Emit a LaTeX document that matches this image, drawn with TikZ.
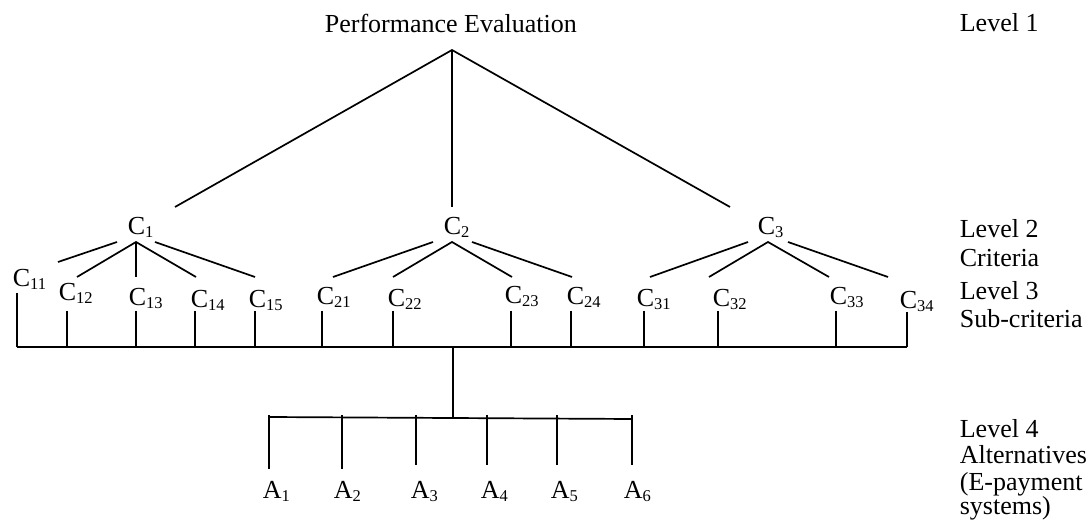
\documentclass[tikz,border=0pt]{standalone}
\usepackage{fontspec}
\setmainfont{Liberation Serif}
% lowered, smaller index digits
\newcommand\idx[1]{\raisebox{-3pt}{\fontsize{16.5}{16.5}\selectfont #1}}
\begin{document}
\begin{tikzpicture}[x=1pt,y=-1pt,line width=1.7pt,
  lbl/.style={inner sep=0pt,anchor=base west,font=\fontsize{26}{30}\selectfont}]
\useasboundingbox (0,0) rectangle (1088,521);

% ---- labels ----
\node[lbl] (pe) at (324,33) {Performance Evaluation};
\node[lbl] (c1) at (127,235) {C\idx{1}};
\node[lbl] (c2) at (443,235) {C\idx{2}};
\node[lbl] (c3) at (757,235) {C\idx{3}};
\foreach \n/\x/\y in {11/12/287,12/58/301,13/128/306,14/190/308,15/248/308,
                      21/316/305,22/387/307,23/504/304,24/566/305,
                      31/636/307,32/712/307,33/829/305,34/899/309}
  \node[lbl] (c\n) at (\x,\y) {C\idx{\n}};
\foreach \n/\x in {1/262,2/333,3/410,4/480,5/550,6/623}
  \node[lbl] (a\n) at (\x,498) {A\idx{\n}};

% level captions, one line each
\node[lbl] (lv1)  at (959,32)  {Level 1};
\node[lbl] (lv2)  at (959,238) {Level 2};
\node[lbl] (lv2b) at (959,267) {Criteria};
\node[lbl] (lv3)  at (959,300) {Level 3};
\node[lbl] (lv3b) at (959,328) {Sub-criteria};
\node[lbl] (lv4)  at (959,438) {Level 4};
\node[lbl] (lv4b) at (959,464) {Alternatives};
\node[lbl] (lv4c) at (959,490) {(E-payment};
\node[lbl] (lv4d) at (959,514) {systems)};

% ---- goal to criteria ----
\coordinate (top) at (452,50);
\coordinate (c1in) at (175,207);
\coordinate (c2in) at (452,207);
\coordinate (c3in) at (730,207);
\draw (c1in) -- (top) -- (c3in);
\draw (top) -- (c2in);

% ---- criteria to sub-criteria ----
\coordinate (c1j) at (136,242); \coordinate (c1l) at (117,242); \coordinate (c1r) at (155,242);
\coordinate (c2j) at (452,242); \coordinate (c2l) at (433,242); \coordinate (c2r) at (472,242);
\coordinate (c3j) at (768,242); \coordinate (c3l) at (748,242); \coordinate (c3r) at (788,242);
\coordinate (e11) at (58,262);  \coordinate (e12) at (77,277);  \coordinate (e13) at (136,277);
\coordinate (e14) at (196,277); \coordinate (e15) at (255,277);
\coordinate (e21) at (333,277); \coordinate (e22) at (393,277);
\coordinate (e23) at (512,277); \coordinate (e24) at (572,277);
\coordinate (e31) at (650,277); \coordinate (e32) at (709,277);
\coordinate (e33) at (829,277); \coordinate (e34) at (888,277);
\draw (c1l) -- (e11);
\draw (e12) -- (c1j) -- (e14);
\draw (c1j) -- (e13);
\draw (c1r) -- (e15);
\draw (c2l) -- (e21);
\draw (e22) -- (c2j) -- (e23);
\draw (c2r) -- (e24);
\draw (c3l) -- (e31);
\draw (e32) -- (c3j) -- (e33);
\draw (c3r) -- (e34);

% ---- sub-criteria to common bar ----
\coordinate (busL) at (17,347);
\coordinate (busR) at (907,347);
\draw (busL) -- (busR);
\foreach \n/\x/\y in {11/17/293,12/67/311,13/136/311,14/195/311,15/255/311,
                      21/322/311,22/393/311,23/511/311,24/571/311,
                      31/644/311,32/718/311,33/836/311,34/907/312}{
  \coordinate (d\n) at (\x,\y);
  \coordinate (b\n) at (\x,347);
  \draw (d\n) -- (b\n);
}

% ---- bar to alternatives ----
\coordinate (busM) at (453,347);
\coordinate (altM) at (453,418);
\draw (busM) -- (altM);
\coordinate (altL) at (269,417);
\coordinate (altR) at (632,419);
\draw (altL) -- (altR);
\foreach \n/\x/\y in {1/269/469,2/342/469,3/416/465,4/487/465,5/557/465,6/632/465}{
  \coordinate (t\n) at (\x,415);
  \coordinate (f\n) at (\x,\y);
  \draw (t\n) -- (f\n);
}
\end{tikzpicture}
\end{document}
